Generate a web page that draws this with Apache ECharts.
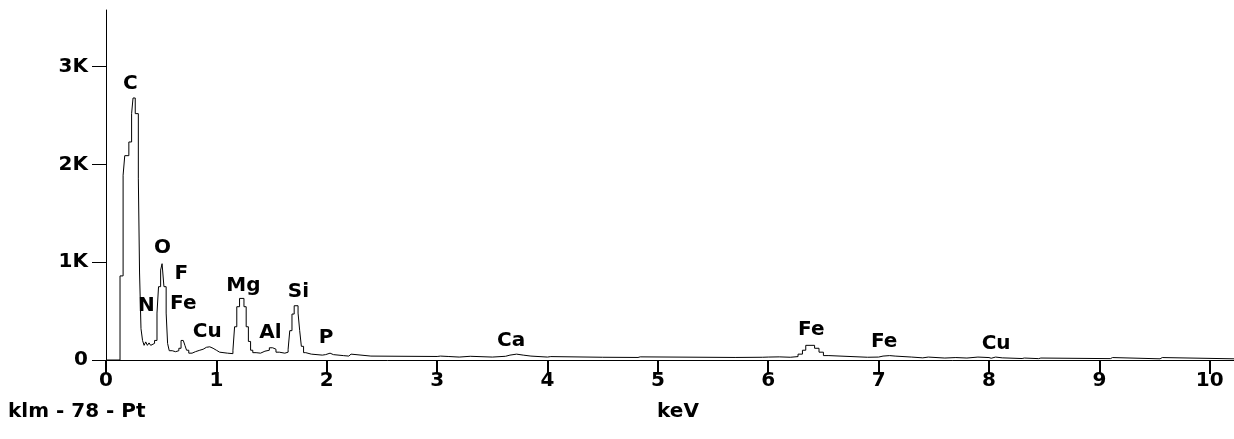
<!DOCTYPE html>
<html>
<head>
<meta charset="utf-8">
<script src="https://cdn.jsdelivr.net/npm/echarts@6/dist/echarts.min.js"></script>
<style>
html,body{margin:0;padding:0;background:#fff;}
#chart{width:1234px;height:439px;}
</style>
</head>
<body>
<div id="chart"></div>
<script>
// Spectrum: channel start energy (keV) and counts
const energies = [0,0.127,0.155,0.170,0.207,0.232,0.245,0.265,0.293,0.304,0.317,0.331,0.345,0.36,0.375,0.39,0.405,0.42,0.44,0.462,0.476,0.495,0.508,0.525,0.545,0.558,0.573,0.60,0.63,0.66,0.68,0.70,0.715,0.73,0.75,0.78,0.81,0.85,0.88,0.91,0.94,0.97,1.00,1.03,1.10,1.15,1.165,1.185,1.21,1.25,1.27,1.29,1.31,1.33,1.36,1.40,1.44,1.48,1.51,1.54,1.57,1.62,1.65,1.665,1.685,1.705,1.74,1.755,1.77,1.79,1.81,1.86,1.96,1.99,2.03,2.06,2.15,2.20,2.22,2.40,2.7,3.0,3.03,3.10,3.2,3.3,3.5,3.62,3.66,3.72,3.78,3.85,4.0,4.03,4.5,4.82,4.84,5.7,5.95,6.0,6.1,6.2,6.27,6.31,6.34,6.42,6.46,6.5,6.55,6.9,7.0,7.04,7.1,7.15,7.3,7.4,7.45,7.6,7.7,7.8,7.9,8.0,8.02,8.06,8.12,8.3,8.32,8.45,8.47,9.1,9.12,9.55,9.57,10.22];
const counts   = [0,860,1890,2090,2230,2520,2680,2520,1860,890,320,200,150,185,150,175,150,170,200,480,750,920,985,750,480,170,95,85,95,120,200,210,150,100,70,85,100,110,130,135,120,100,80,70,65,100,340,545,630,545,340,190,100,75,70,90,100,125,110,80,70,80,110,300,470,555,480,300,140,75,60,50,55,70,55,45,40,60,40,38,36,40,36,30,38,30,38,50,60,50,40,30,35,28,26,32,26,28,30,32,28,35,60,100,150,120,80,45,28,30,40,45,40,30,22,30,20,25,20,30,25,18,30,22,15,20,14,20,14,25,12,25,12,12];

// Peak annotations: element, energy (keV), label height (counts)
const peakNames  = ['C','N','O','F','Fe','Cu','Mg','Al','Si','P','Ca','Fe','Fe','Cu'];
const peakEnergy = [0.221,0.366,0.511,0.683,0.70,0.918,1.245,1.49,1.743,1.995,3.671,6.39,7.05,8.065];
const peakHeight = [2822,552,1145,879,573,286,757,276,695,225,194,307,184,164];

// Axis ticks
const xTicks = [0,1,2,3,4,5,6,7,8,9,10];
const yTicks = [0,1000,2000,3000];

const FONT = 'DejaVu Sans';
const spectrum = energies.map((e,i)=>[e,counts[i]]);
const peaks = peakNames.map((n,i)=>({name:n,value:[peakEnergy[i],peakHeight[i]]}));

const chart = echarts.init(document.getElementById('chart'));
chart.setOption({
  animation:false,
  backgroundColor:'#fff',
  grid:{left:106,right:0,top:10,bottom:79},
  xAxis:{
    type:'value',min:0,max:10.22,
    axisLine:{show:true,lineStyle:{color:'#000',width:1}},
    axisTick:{show:true,length:14,lineStyle:{color:'#000',width:2},customValues:xTicks},
    axisLabel:{show:true,customValues:xTicks,color:'#000',fontFamily:FONT,fontWeight:'bold',fontSize:20,margin:11},
    splitLine:{show:false}
  },
  yAxis:{
    type:'value',min:0,max:3580,
    axisLine:{show:true,lineStyle:{color:'#000',width:1}},
    axisTick:{show:true,length:14,lineStyle:{color:'#000',width:1},customValues:yTicks},
    axisLabel:{show:true,customValues:yTicks,color:'#000',fontFamily:FONT,fontWeight:'bold',fontSize:20,margin:18,
      formatter:v=> v===0?'0':(v/1000)+'K'},
    splitLine:{show:false}
  },
  series:[
    {type:'line',data:spectrum,step:'end',showSymbol:false,symbol:'none',
     lineStyle:{color:'#000',width:1},z:3},
    {type:'scatter',data:peaks,symbolSize:0,silent:true,itemStyle:{opacity:1},
     label:{show:true,position:'inside',formatter:'{b}',color:'#000',fontFamily:FONT,fontWeight:'bold',fontSize:20},z:4}
  ],
  graphic:[
    {type:'text',left:8,top:402,style:{text:'klm - 78 - Pt',fill:'#000',font:'bold 20px "DejaVu Sans"'}},
    {type:'text',x:678,y:402,style:{text:'keV',fill:'#000',align:'center',font:'bold 20px "DejaVu Sans"'}}
  ]
});
</script>
</body>
</html>
